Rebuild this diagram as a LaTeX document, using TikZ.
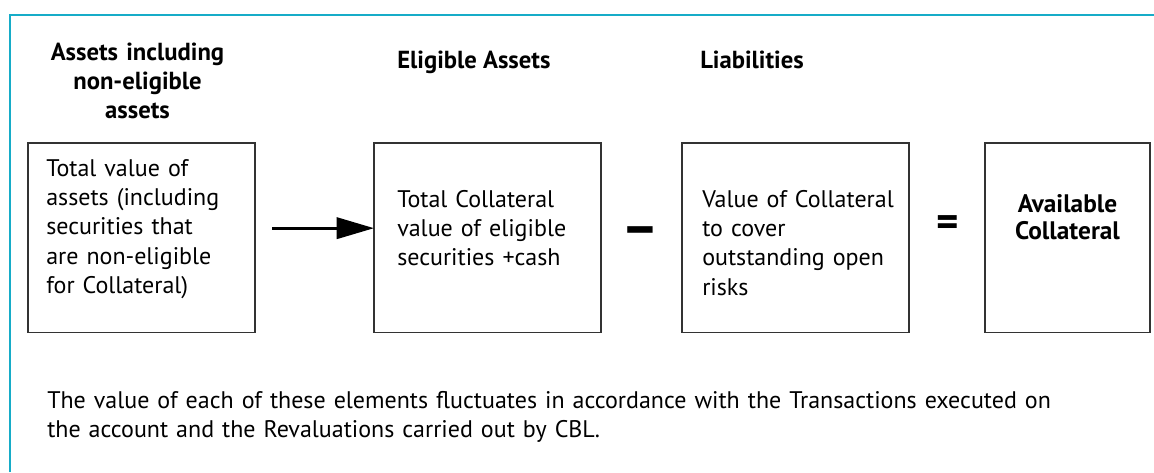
\documentclass[tikz,border=0pt]{standalone}
\usepackage{fontspec}
\setmainfont{PT Sans}
\usetikzlibrary{arrows.meta}
\definecolor{frameteal}{RGB}{22,172,200}
\tikzset{value box/.style={
        draw=black!80, line width=0.9pt, minimum width=#1, minimum height=142pt,
        anchor=north west, inner sep=0pt,
        outer sep=0pt, % borders sit exactly on the coordinates
    },
    box text/.style={
        font=\fontsize{18}{22}\selectfont, text width=#1, align=left,
        anchor=base west, inner sep=0pt
    },
    column head/.style={
        font=\bfseries\fontsize{18.5}{21.75}\selectfont, inner sep=0pt
    },
    operator/.style={
        font=\bfseries\fontsize{#1}{#1}\selectfont, inner sep=0pt, anchor=base
    },
    flow/.style={
        line width=2pt, -{Triangle[length=28pt,width=16pt]}
    },
}
\begin{document}
\begin{tikzpicture}[x=0.75pt,y=-0.75pt]
    \useasboundingbox (0,0) rectangle (1154,472);
    %% frame on the top and the left
        \draw[frameteal, line width=2pt] (10,472) -- (10,15) -- (1154,15);

    %% the four boxes
        \node [value box=170.25pt] (assets) at (28,143) {};
        \node [value box=170.25pt] (eligible) at (374,143) {};
        \node [value box=170.25pt] (liab) at (682,143) {};
        \node [value box=123.75pt] (avail) at (985,143) {};

    %% column heads
        \node [column head, text width=150pt, align=center, anchor=base] at ([shift={(-4,-83)}]assets.north) (headA) {Assets including\\non-eligible\\assets};
        \node [column head, anchor=base west] at ([shift={(23,-75)}]eligible.north west) (headE) {Eligible Assets};
        \node [column head, anchor=base west] at ([shift={(18,-75)}]liab.north west) (headL) {Liabilities};

    %% texts in the boxes
        \node [box text=160pt] at ([shift={(18,33)}]assets.north west) (txtA) {Total value of\\assets (including\\securities that\\are non-eligible\\for Collateral)};
        \node [box text=160pt] at ([shift={(23,64)}]eligible.north west) (txtE) {Total Collateral\\value of eligible\\securities +cash};
        \node [box text=160pt] at ([shift={(20,64)}]liab.north west) (txtL) {Value of Collateral\\to cover\\outstanding open\\risks};
        \node [box text=120pt, align=center, anchor=base, font=\bfseries\fontsize{19}{20.7}\selectfont] at ([shift={(0,69)}]avail.north) (txtV) {Available\\Collateral};

    %% arrow, minus and equals
        \draw [flow] ([shift={(17,-9.5)}]assets.east) -- ([shift={(0,-9.5)}]eligible.west);
        \node [operator=43] at ([shift={(39.5,0)}]eligible.south east |- 0,246) (minus) {–};
        \node [operator=32] at ([shift={(-37,0)}]avail.south west |- 0,236) (equals) {=};

    %% note below
        \node [box text=840pt] at ([shift={(19,76)}]assets.south west) (note) {The value of each of these elements fluctuates in accordance with the Transactions executed on\\the account and the Revaluations carried out by CBL.};
\end{tikzpicture}
\end{document}
